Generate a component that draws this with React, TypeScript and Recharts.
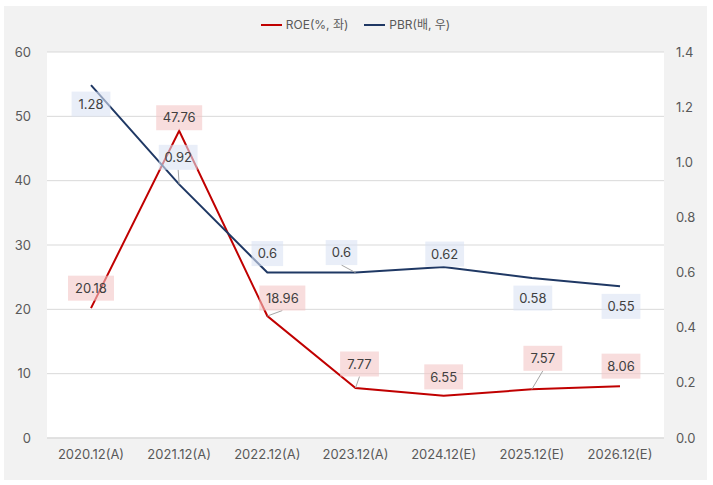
import { ComposedChart, Line, XAxis, YAxis, CartesianGrid, LabelList } from 'recharts';

const categories = ['2020.12(A)', '2021.12(A)', '2022.12(A)', '2023.12(A)', '2024.12(E)', '2025.12(E)', '2026.12(E)'];
const roe = [20.18, 47.76, 18.96, 7.77, 6.55, 7.57, 8.06];
const pbr = [1.28, 0.92, 0.6, 0.6, 0.62, 0.58, 0.55];
const leftTicks = [0, 10, 20, 30, 40, 50, 60];
const rightTicks = [0, 0.2, 0.4, 0.6, 0.8, 1.0, 1.2, 1.4];

const data = categories.map((name, i) => ({ name, roe: roe[i], pbr: pbr[i] }));

const FONT = 'Inter, "Noto Sans CJK KR", sans-serif';
const RED = '#c00000';
const NAVY = '#1f3864';

// label placement relative to the point [dx, dy, leader line]
const roeShift: [number, number, boolean][] = [
  [0, -20, false], [0, -13, false], [15, -18, true], [4, -24, true],
  [0, -19, false], [11, -31, true], [1, -20, false],
];
const pbrShift: [number, number, boolean][] = [
  [0, 19, false], [-1, -27, true], [0, -19, false], [-14, -20, true],
  [1, -13, false], [1, 20, false], [1, 20, false],
];

function makeLabel(shift: [number, number, boolean][], fill: string) {
  return (props: any) => {
    const { x, y, value, index } = props;
    if (x == null || y == null) return null;
    const [dx, dy, leader] = shift[index] ?? [0, -18, false];
    const text = String(value);
    const w = text.length * 7.2 + 10;
    const h = 25;
    const cx = x + dx;
    const cy = y + dy;
    const edgeY = dy < 0 ? cy + h / 2 : cy - h / 2;
    return (
      <g>
        {leader && <line x1={x} y1={y} x2={cx} y2={edgeY} stroke="#a6a6a6" strokeWidth={1} />}
        <rect x={cx - w / 2} y={cy - h / 2} width={w} height={h} fill={fill} fillOpacity={0.6} />
        <text x={cx} y={cy} dy="0.36em" textAnchor="middle" fontSize={13} fill="#404040" fontFamily={FONT}>
          {text}
        </text>
      </g>
    );
  };
}

function LegendItem({ color, label }: { color: string; label: string }) {
  return (
    <div style={{ display: 'flex', alignItems: 'center', gap: 4 }}>
      <div style={{ width: 21, height: 2, background: color }} />
      <span>{label}</span>
    </div>
  );
}

export default function App() {
  return (
    <div style={{ position: 'absolute', left: 0, top: 0, width: 713, height: 485, background: '#fff', fontFamily: FONT }}>
      <div style={{ position: 'absolute', left: 4, top: 6, width: 703, height: 474, background: '#f2f2f2' }}>
        <div
          style={{
            position: 'absolute', top: 11, left: 0, width: 703, display: 'flex', justifyContent: 'center',
            gap: 16, fontSize: 12, color: '#595959', lineHeight: '16px',
          }}
        >
          <LegendItem color={RED} label="ROE(%, 좌)" />
          <LegendItem color={NAVY} label="PBR(배, 우)" />
        </div>
        <ComposedChart width={703} height={474} data={data} margin={{ top: 46, right: 12, bottom: 0, left: 12 }}>
          <CartesianGrid yAxisId="left" vertical={false} stroke="#d9d9d9" fill="#fff" />
          <XAxis
            dataKey="name"
            padding={{ left: 44, right: 44 }}
            axisLine={{ stroke: '#d9d9d9' }}
            tickLine={false}
            tickSize={0}
            tickMargin={12}
            height={42}
            tick={{ fill: '#595959', fontSize: 13, fontFamily: FONT }}
          />
          <YAxis
            yAxisId="left"
            domain={[0, 60]}
            ticks={leftTicks}
            axisLine={false}
            tickLine={false}
            tickSize={0}
            tickMargin={16}
            width={31}
            tick={{ fill: '#595959', fontSize: 13, fontFamily: FONT }}
          />
          <YAxis
            yAxisId="right"
            orientation="right"
            domain={[0, 1.4]}
            ticks={rightTicks}
            tickFormatter={(v: number) => v.toFixed(1)}
            axisLine={false}
            tickLine={false}
            tickSize={0}
            tickMargin={12}
            width={31}
            tick={{ fill: '#595959', fontSize: 13, fontFamily: FONT, textAnchor: 'start' }}
          />
          <Line yAxisId="left" dataKey="roe" stroke={RED} strokeWidth={2} dot={false} isAnimationActive={false}>
            <LabelList dataKey="roe" content={makeLabel(roeShift, '#f4c7c7')} />
          </Line>
          <Line yAxisId="right" dataKey="pbr" stroke={NAVY} strokeWidth={2} dot={false} isAnimationActive={false}>
            <LabelList dataKey="pbr" content={makeLabel(pbrShift, '#dae3f3')} />
          </Line>
        </ComposedChart>
      </div>
    </div>
  );
}
